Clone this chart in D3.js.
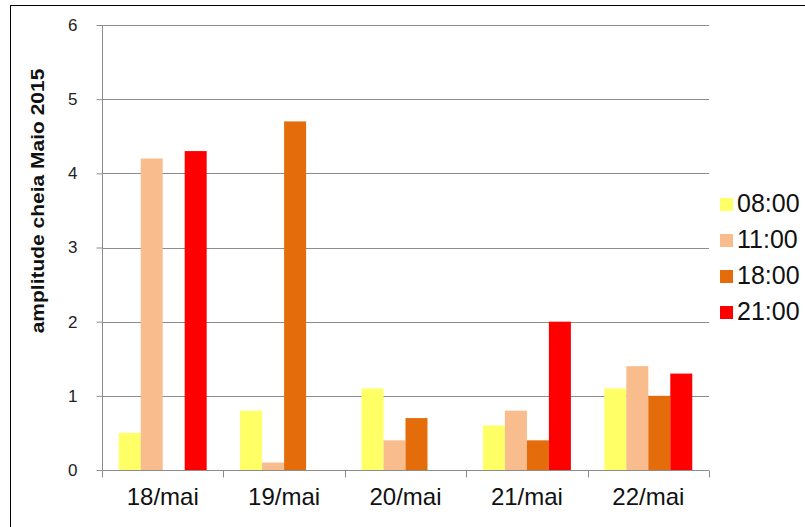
<!DOCTYPE html>
<html>
<head>
<meta charset="utf-8">
<script src="https://cdn.jsdelivr.net/npm/d3@7"></script>
<style>
  html, body { margin: 0; padding: 0; background: #fff; }
  svg { display: block; font-family: "Liberation Sans", Arial, sans-serif; }
</style>
</head>
<body>
<svg id="chart" width="805" height="527"></svg>
<script>
// Daily dates and measurement times
const categories = ["18/mai", "19/mai", "20/mai", "21/mai", "22/mai"];
const seriesNames = ["08:00", "11:00", "18:00", "21:00"];
const seriesColors = ["#FFFF66", "#F9BC8C", "#E46C0A", "#FF0000"];
const values0800 = [0.5, 0.8, 1.1, 0.6, 1.1];
const values1100 = [4.2, 0.1, 0.4, 0.8, 1.4];
const values1800 = [0.0, 4.7, 0.7, 0.4, 1.0];
const values2100 = [4.3, 0.0, 0.0, 2.0, 1.3];
const yTicks = [0, 1, 2, 3, 4, 5, 6];
const yTitle = "amplitude cheia Maio 2015";

const seriesValues = [values0800, values1100, values1800, values2100];

const svg = d3.select("#chart");

// outer frame
svg.append("rect")
  .attr("x", 10.5).attr("y", 5.5)
  .attr("width", 820).attr("height", 540)
  .attr("fill", "none").attr("stroke", "#000").attr("stroke-width", 1);

const plot = { left: 102, right: 709, top: 25, bottom: 470 };

const x0 = d3.scaleBand().domain(categories).range([plot.left, plot.right]).paddingInner(0).paddingOuter(0);
const x1 = d3.scaleBand().domain(seriesNames).range([0, x0.bandwidth()]).paddingInner(0).paddingOuter(0.76);
const y = d3.scaleLinear().domain([0, 6]).range([plot.bottom, plot.top]);

// horizontal gridlines
svg.append("g").selectAll("line")
  .data(yTicks.filter(t => t > 0))
  .join("line")
  .attr("x1", plot.left).attr("x2", plot.right)
  .attr("y1", d => Math.round(y(d)) + 0.5).attr("y2", d => Math.round(y(d)) + 0.5)
  .attr("stroke", "#8c8c8c").attr("stroke-width", 1);

// bars
const groups = svg.append("g").selectAll("g")
  .data(categories)
  .join("g")
  .attr("transform", d => `translate(${x0(d)},0)`);

groups.selectAll("rect")
  .data((c, i) => seriesNames.map((s, j) => ({ s, j, v: seriesValues[j][i] })))
  .join("rect")
  .attr("x", d => x1(d.s))
  .attr("width", x1.bandwidth())
  .attr("y", d => y(d.v))
  .attr("height", d => y(0) - y(d.v))
  .attr("fill", d => seriesColors[d.j]);

// y axis
const yAxis = svg.append("g")
  .attr("transform", `translate(${plot.left + 0.5},0)`)
  .call(d3.axisLeft(y).tickValues(yTicks).tickSize(6).tickPadding(19).tickFormat(d3.format("d")));
yAxis.select(".domain").attr("stroke", "#8c8c8c").attr("d", `M0,${plot.top}V${plot.bottom}`);
yAxis.selectAll(".tick line").attr("stroke", "#8c8c8c");
yAxis.selectAll(".tick text").attr("font-size", 17).attr("fill", "#222")
  .attr("font-family", "\"Liberation Sans\", Arial, sans-serif");

// x axis
const xAxis = svg.append("g")
  .attr("transform", `translate(0,${plot.bottom + 0.5})`)
  .call(d3.axisBottom(x0).tickSize(0).tickPadding(17));
xAxis.select(".domain").attr("stroke", "#8c8c8c").attr("d", `M${plot.left},0H${plot.right}`);
xAxis.selectAll(".tick text").attr("font-size", 24).attr("fill", "#111")
  .attr("font-family", "\"Liberation Sans\", Arial, sans-serif");

// category separators
const bounds = categories.map(c => x0(c)).concat([plot.right]);
xAxis.append("g").selectAll("line")
  .data(bounds)
  .join("line")
  .attr("x1", d => Math.round(d) + 0.5).attr("x2", d => Math.round(d) + 0.5)
  .attr("y1", 0).attr("y2", 7)
  .attr("stroke", "#8c8c8c");

// y title
svg.append("text")
  .attr("transform", `translate(38,201) scale(0.85,1) rotate(-90)`)
  .attr("text-anchor", "middle")
  .attr("dy", "0.36em")
  .attr("font-size", 21).attr("font-weight", "bold").attr("fill", "#111")
  .text(yTitle);

// legend
const legend = svg.append("g").selectAll("g")
  .data(seriesNames)
  .join("g")
  .attr("transform", (d, i) => `translate(720,${203 + i * 36})`);
legend.append("rect")
  .attr("x", 0).attr("y", -5).attr("width", 13).attr("height", 13)
  .attr("fill", (d, i) => seriesColors[i]);
legend.append("text")
  .attr("x", 17).attr("y", 0).attr("dy", "0.36em")
  .attr("font-size", 25).attr("fill", "#111")
  .text(d => d);
</script>
</body>
</html>
